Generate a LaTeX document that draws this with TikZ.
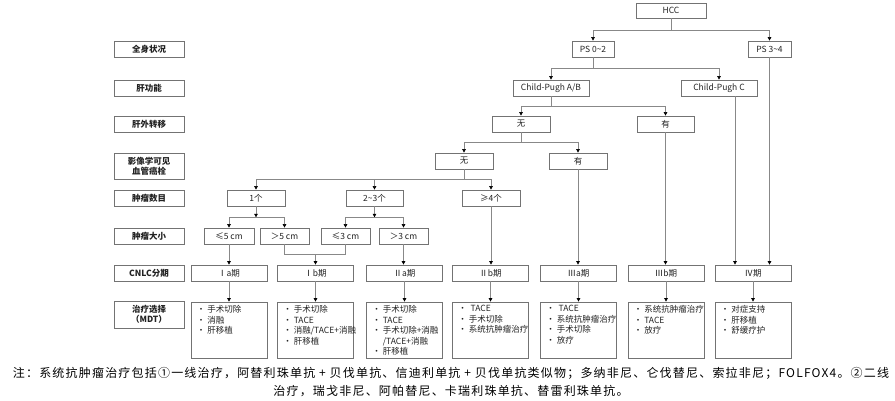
\documentclass[tikz,border=0pt]{standalone}
\usepackage{fontspec}
\setmainfont{Noto Sans CJK SC}
\newfontfamily\notefont[LetterSpace=10]{Noto Sans CJK SC}
\usetikzlibrary{arrows.meta}
\definecolor{boxline}{HTML}{737373}
\definecolor{linkline}{HTML}{888888}
\definecolor{ink}{HTML}{222222}

\begin{document}
\begin{tikzpicture}[x=1pt, y=-1pt,
  box/.style={draw=boxline, line width=0.7pt, minimum height=16pt, inner sep=0pt, text=ink, font=\fontsize{8.5}{10}\selectfont},
  lbox/.style={box, minimum width=70pt, align=center, font=\fontsize{8.5}{10}\selectfont\bfseries},
  tbox/.style={box, minimum width=76pt, minimum height=56pt},
  tlist/.style={anchor=north west, align=left, inner sep=0pt, text=ink, font=\fontsize{8.5}{10.5}\selectfont},
  link/.style={draw=linkline, line width=0.6pt},
  arr/.style={link, -{Triangle[length=3.5pt,width=3.5pt,color=black]}}]
\useasboundingbox (0,0) rectangle (895,401);

% left column
\foreach \i/\y/\h/\txt in {1/49/16/全身状况, 2/88/16/肝功能, 3/124/16/肝外转移, 4/166/26/{影像学可见\\血管癌栓}, 5/198/16/肿瘤数目, 6/236/16/肿瘤大小, 7/273/16/CNLC分期, 8/314.5/27/{治疗选择\\（MDT）}} {
  \node[lbox, minimum height=\h pt] (lbl\i) at (149,\y) {\txt};
}

% decision tree
\node[box, minimum width=70pt, minimum height=15pt] (hcc) at (671,10.5) {HCC};
\node[box, minimum width=42pt] (ps02) at (593,49) {PS 0\textasciitilde2};
\node[box, minimum width=43pt] (ps34) at (769.5,49) {PS 3\textasciitilde4};
\node[box, minimum width=76pt] (cpab) at (551,88) {Child-Pugh A/B};
\node[box, minimum width=76pt] (cpc) at (719,88) {Child-Pugh C};
\node[box, minimum width=58pt] (ehno) at (521,124) {无};
\node[box, minimum width=57pt] (ehyes) at (665.5,124) {有};
\node[box, minimum width=58pt] (pvno) at (464,161) {无};
\node[box, minimum width=58pt] (pvyes) at (578,161) {有};
\node[box, minimum width=58pt] (num1) at (256,198) {1个};
\node[box, minimum width=57pt] (num23) at (374.5,198) {2\textasciitilde3个};
\node[box, minimum width=58pt] (num4) at (491,198) {≥4个};
\node[box, minimum width=50pt] (sz5a) at (229,236) {≤5 cm};
\node[box, minimum width=49pt] (sz5b) at (284.5,236) {＞5 cm};
\node[box, minimum width=49pt] (sz3a) at (345.5,236) {≤3 cm};
\node[box, minimum width=49pt] (sz3b) at (403.5,236) {＞3 cm};

% stages and treatment boxes
\foreach \n/\x/\txt in {ia/229/Ⅰa期, ib/315.5/Ⅰb期, iia/404.5/Ⅱa期, iib/490.5/Ⅱb期, iiia/578.5/Ⅲa期, iiib/666/Ⅲb期, iv/753/Ⅳ期} {
  \node[box, minimum width=76pt] (\n) at (\x,273) {\txt};
  \node[tbox] (t\n) at (\x,330) {};
  \draw[arr] (\n.south) -- (t\n.north);
}
\node[tlist] (lia) at ([xshift=6pt,yshift=-3.5pt]tia.north west) {· 手术切除\\· 消融\\· 肝移植};
\node[tlist] (lib) at ([xshift=6pt,yshift=-3.5pt]tib.north west) {· 手术切除\\· TACE\\· 消融/TACE+消融\\· 肝移植};
\node[tlist] (liia) at ([xshift=6pt,yshift=-3.5pt]tiia.north west) {· 手术切除\\· TACE\\· 手术切除+消融\\\hphantom{· }/TACE+消融\\· 肝移植};
\node[tlist] (liib) at ([xshift=6pt,yshift=-3.5pt]tiib.north west) {· \ TACE\\· 手术切除\\· 系统抗肿瘤治疗};
\node[tlist] (liiia) at ([xshift=6pt,yshift=-3.5pt]tiiia.north west) {· \ TACE\\· 系统抗肿瘤治疗\\· 手术切除\\· 放疗};
\node[tlist] (liiib) at ([xshift=6pt,yshift=-3.5pt]tiiib.north west) {· 系统抗肿瘤治疗\\· TACE\\· 放疗};
\node[tlist] (liv) at ([xshift=6pt,yshift=-3.5pt]tiv.north west) {· 对症支持\\· 肝移植\\· 舒缓疗护};

% connectors
\draw[arr] (hcc.south) -- ++(0,12) -| (ps02.north);
\draw[arr] (hcc.south) -- ++(0,12) -| (ps34.north);
\draw[arr] (ps02.south) -- ++(0,11) -| (cpab.north);
\draw[arr] (ps02.south) -- ++(0,11) -| (cpc.north);
\draw[arr] (cpab.south) -- ++(0,10) -| (ehno.north);
\draw[arr] (cpab.south) -- ++(0,10) -| (ehyes.north);
\draw[arr] (ehno.south) -- ++(0,10) -| (pvno.north);
\draw[arr] (ehno.south) -- ++(0,10) -| (pvyes.north);
\draw[arr] (pvno.south) -- ++(0,10) -| (num1.north);
\draw[arr] (pvno.south) -- ++(0,10) -| (num23.north);
\draw[arr] (pvno.south) -- ++(0,10) -| (num4.north);
\draw[arr] (num1.south) -- ++(0,11) coordinate (j1);
\draw[arr] (j1) -| (sz5a.north);
\draw[arr] (j1) -| (sz5b.north);
\draw[arr] (num23.south) -- ++(0,11) coordinate (j23);
\draw[arr] (j23) -| (sz3a.north);
\draw[arr] (j23) -| (sz3b.north);
\draw[arr] (sz5a.south) -- (ia.north);
\draw[link] (sz5b.south) -- ++(0,10) coordinate (b5) -| (sz3a.south);
\draw[arr] (b5 -| ib.north) -- (ib.north);
\draw[arr] (sz3b.south) -- (sz3b.south |- iia.north);
\draw[arr] (num4.south) -- (num4.south |- iib.north);
\draw[arr] (pvyes.south) -- (pvyes.south |- iiia.north);
\draw[arr] (ehyes.south) -- (ehyes.south |- iiib.north);
\draw[arr] ([xshift=16pt]cpc.south) -- ([xshift=-18pt]iv.north);
\draw[arr] (ps34.south) -- (ps34.south |- iv.north);

% note
\node[font=\notefont\fontsize{12}{18}\selectfont, align=center, text=black, inner sep=0pt] (note) at (451,382) {注：系统抗肿瘤治疗包括①一线治疗，阿替利珠单抗 + 贝伐单抗、信迪利单抗 + 贝伐单抗类似物；多纳非尼、仑伐替尼、索拉非尼；FOLFOX4。②二线\\治疗，瑞戈非尼、阿帕替尼、卡瑞利珠单抗、替雷利珠单抗。};
\end{tikzpicture}
\end{document}
